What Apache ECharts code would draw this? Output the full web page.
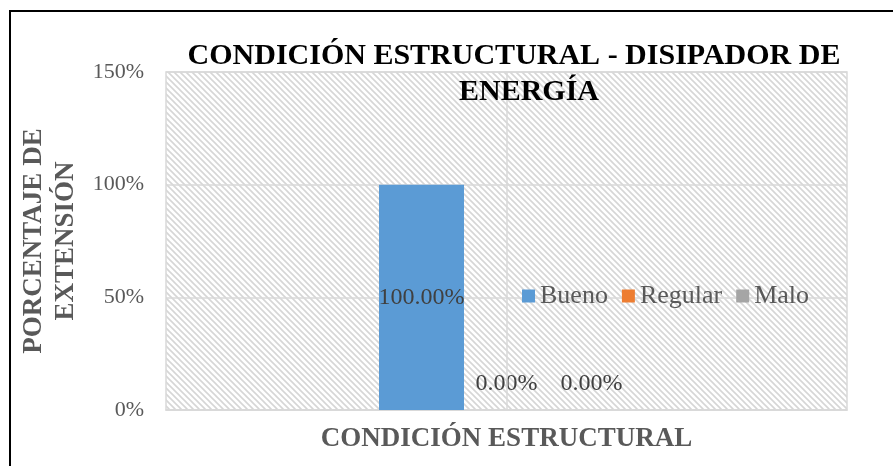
<!DOCTYPE html>
<html>
<head>
<meta charset="utf-8">
<script src="https://cdn.jsdelivr.net/npm/echarts@6/dist/echarts.min.js"></script>
<style>
  html, body { margin: 0; padding: 0; background: #fff; }
  #chart { width: 893px; height: 466px; }
</style>
</head>
<body>
<div id="chart"></div>
<script>
// datos del gráfico
const categories = ['CONDICIÓN ESTRUCTURAL'];
const seriesNames = ['Bueno', 'Regular', 'Malo'];
const bueno = [1];
const regular = [0];
const malo = [0];
const yTicks = [0, 0.5, 1, 1.5];

const colors = ['#5B9BD5', '#ED7D31', '#A5A5A5'];
const FONT = 'Liberation Serif';
const GRAY = '#595959';

// fondo rayado del área de trazado
const makeHatch = () => {
  const c = document.createElement('canvas');
  c.width = 6;
  c.height = 6;
  const ctx = c.getContext('2d');
  ctx.fillStyle = '#ffffff';
  ctx.fillRect(0, 0, 6, 6);
  ctx.strokeStyle = '#d6d6d6';
  ctx.lineWidth = 1.6;
  ctx.beginPath();
  ctx.moveTo(-1, -1); ctx.lineTo(7, 7);
  ctx.moveTo(-4, 2); ctx.lineTo(2, 8);
  ctx.moveTo(4, -2); ctx.lineTo(10, 4);
  ctx.stroke();
  return c;
};

const chart = echarts.init(document.getElementById('chart'), null, { renderer: 'canvas' });

const pct = v => (v * 100).toFixed(2) + '%';

const barSeries = (name, data, color, pos) => ({
  name: name,
  type: 'bar',
  data: data,
  barWidth: 85,
  barGap: '0%',
  itemStyle: { color: color },
  label: {
    show: true,
    position: pos,
    distance: 14,
    formatter: p => pct(p.value),
    fontFamily: FONT,
    fontSize: 24,
    color: '#404040'
  }
});

const series = [
  barSeries(seriesNames[0], bueno, colors[0], 'inside'),
  barSeries(seriesNames[1], regular, colors[1], 'top'),
  barSeries(seriesNames[2], malo, colors[2], 'top')
];
// línea vertical de la cuadrícula (centro de la categoría)
series[1].markLine = {
  silent: true,
  symbol: 'none',
  label: { show: false },
  lineStyle: { color: '#d9d9d9', width: 1.5, type: 'solid' },
  data: [{ xAxis: categories[0] }]
};

const option = {
  animation: false,
  backgroundColor: '#ffffff',
  title: [
    {
      text: 'CONDICIÓN ESTRUCTURAL - DISIPADOR DE',
      left: 514, top: 41, padding: 0, textAlign: 'center',
      textStyle: { fontFamily: FONT, fontSize: 30, fontWeight: 'bold', color: '#000' }
    },
    {
      text: 'ENERGÍA',
      left: 529, top: 77, padding: 0, textAlign: 'center',
      textStyle: { fontFamily: FONT, fontSize: 30, fontWeight: 'bold', color: '#000' }
    }
  ],
  legend: {
    data: seriesNames,
    left: 522,
    top: 283,
    padding: 0,
    itemWidth: 13,
    itemHeight: 13,
    itemGap: 14,
    icon: 'rect',
    textStyle: { fontFamily: FONT, fontSize: 26, color: GRAY }
  },
  grid: {
    left: 166,
    right: 46,
    top: 72,
    bottom: 56,
    show: true,
    backgroundColor: { image: makeHatch(), repeat: 'repeat' },
    borderColor: '#d9d9d9',
    borderWidth: 1.5
  },
  xAxis: {
    type: 'category',
    data: categories,
    axisLine: { show: true, lineStyle: { color: '#d9d9d9', width: 1.5 } },
    axisTick: { show: false },
    axisLabel: {
      margin: 16,
      fontFamily: FONT,
      fontSize: 27,
      fontWeight: 'bold',
      color: GRAY
    },
    splitLine: { show: false }
  },
  yAxis: {
    type: 'value',
    min: yTicks[0],
    max: yTicks[yTicks.length - 1],
    interval: 0.5,
    name: 'PORCENTAJE DE\nEXTENSIÓN',
    nameLocation: 'middle',
    nameRotate: 90,
    nameGap: 83,
    nameTextStyle: {
      fontFamily: FONT,
      fontSize: 27,
      fontWeight: 'bold',
      color: GRAY,
      lineHeight: 32
    },
    axisLine: { show: false },
    axisTick: { show: false },
    axisLabel: {
      margin: 22,
      formatter: v => Math.round(v * 100) + '%',
      fontFamily: FONT,
      fontSize: 22,
      color: GRAY
    },
    splitLine: { show: true, lineStyle: { color: '#d9d9d9', width: 1.5 } }
  },
  graphic: [
    {
      type: 'rect',
      silent: true,
      z: 100,
      shape: { x: 10, y: 11, width: 1000, height: 1000 },
      style: { fill: 'none', stroke: '#000', lineWidth: 2 }
    }
  ],
  series: series
};

chart.setOption(option);
</script>
</body>
</html>
